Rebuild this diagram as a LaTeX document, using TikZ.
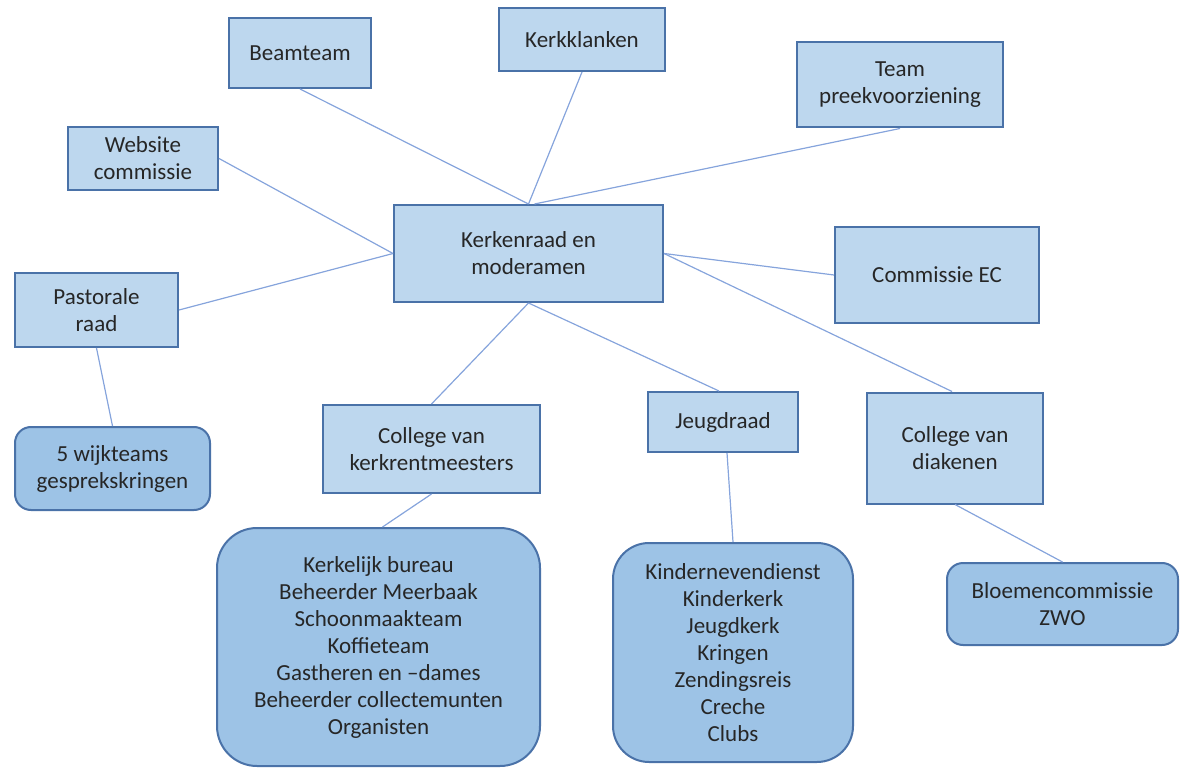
\documentclass[tikz,border=0pt]{standalone}
\usepackage{fontspec}
\setmainfont{Carlito}
\definecolor{boxfill}{HTML}{BDD7EE}
\definecolor{roundfill}{HTML}{9DC3E6}
\definecolor{boxline}{HTML}{4A72A8}
\definecolor{linkline}{HTML}{86A4DC}
\definecolor{textgray}{HTML}{262626}
\tikzset{
  unit/.style={draw=boxline, line width=1pt, fill=boxfill, align=center,
    inner sep=0pt, text=textgray, font=\fontsize{11.5}{13.5}\selectfont},
  group/.style={unit, fill=roundfill, rounded corners=#1},
  group/.default=8pt
}
\begin{document}
\begin{tikzpicture}[x=0.5pt, y=-0.5pt]
      \useasboundingbox (0,0) rectangle (1186,769);
      \draw
        (528.5,253.5) node[unit, minimum width=134.5pt, minimum height=48.5pt] (kr){Kerkenraad en\\moderamen}
        (300,53) node[unit, minimum width=71pt, minimum height=35pt] (beam){Beamteam}
        (582,39.5) node[unit, minimum width=83pt, minimum height=31.5pt] (klank){Kerkklanken}
        (900,85) node[unit, minimum width=103pt, minimum height=42.5pt] (preek){Team\\preekvoorziening}
        (143,158.5) node[unit, minimum width=75pt, minimum height=31.5pt] (web){Website\\commissie}
        (937,275) node[unit, minimum width=102pt, minimum height=48pt] (ec){Commissie EC}
        (96.5,310) node[unit, minimum width=81.5pt, minimum height=37pt] (past){Pastorale\\raad}
        (431.5,449) node[unit, minimum width=108.5pt, minimum height=44pt] (kerkr){College van\\kerkrentmeesters}
        (723,422) node[unit, minimum width=75pt, minimum height=30pt] (jeugd){Jeugdraad}
        (955,448) node[unit, minimum width=88pt, minimum height=55.5pt] (diak){College van\\diakenen}
        (112.5,468.5) node[group, minimum width=97.5pt, minimum height=41.5pt] (wijk){5 wijkteams\\gesprekskringen}
        (378.5,647) node[group=20pt, minimum width=161.5pt, minimum height=119pt] (bureau){Kerkelijk bureau\\Beheerder Meerbaak\\Schoonmaakteam\\Koffieteam\\Gastheren en --dames\\Beheerder collectemunten\\Organisten}
        (733,652.5) node[group=18pt, minimum width=120pt, minimum height=109.5pt] (kids){Kindernevendienst\\Kinderkerk\\Jeugdkerk\\Kringen\\Zendingsreis\\Creche\\Clubs}
        (1062.5,604) node[group, minimum width=115.5pt, minimum height=41pt] (bloem){Bloemencommissie\\ZWO};
      \begin{scope}[draw=linkline, line width=0.6pt]
        \draw (beam.south) to (kr.north);
        \draw (klank.south) to (kr.north);
        \draw (preek.south) to ([xshift=3pt]kr.north);
        \draw (web.east) to (kr.west);
        \draw (past.east) to (kr.west);
        \draw (ec.west) to (kr.east);
        \draw ([xshift=-1.5pt]diak.north) to (kr.east);
        \draw (kerkr.north) to (kr.south);
        \draw ([xshift=-2pt]jeugd.north) to (kr.south);
        \draw (past.south) to (wijk.north);
        \draw (kerkr.south) to ([xshift=2pt]bureau.north);
        \draw ([xshift=2pt]jeugd.south) to (kids.north);
        \draw (diak.south) to (bloem.north);
      \end{scope}
    \end{tikzpicture}
\end{document}
